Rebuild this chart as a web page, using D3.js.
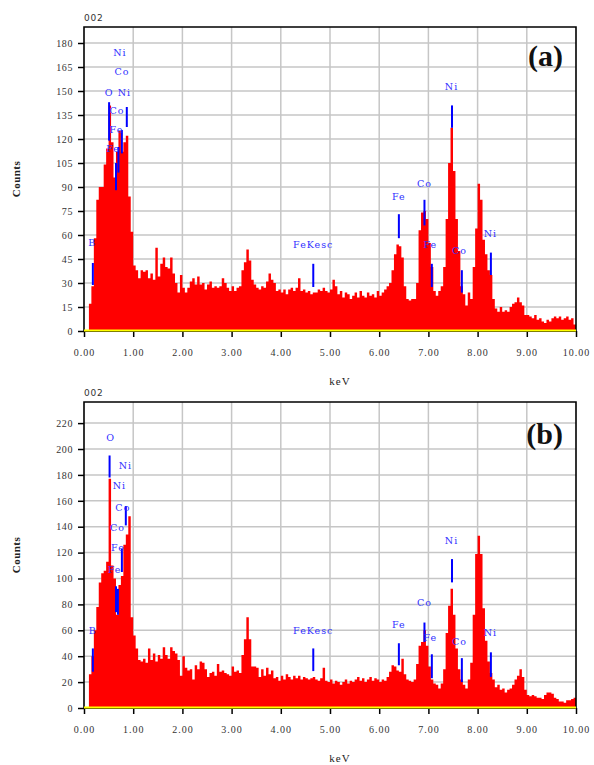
<!DOCTYPE html>
<html><head><meta charset="utf-8">
<script src="https://cdn.jsdelivr.net/npm/d3@7"></script>
<style>body{margin:0;background:#fff}svg{display:block}</style>
</head><body><svg id="c" width="594" height="765"></svg>
<script>
// Energy bins: 0.05 keV wide, starting at 0.00 keV (200 bins up to 10.00 keV)
const binWidth = 0.05;
const energies = d3.range(200).map(i => +(i * binWidth).toFixed(2));

// Panel (a) counts per bin
const countsA = [
  0,0,17,28,58,82,90,90,104,114,   // 0.00-0.45
  141,118,96,112,125,112,118,122,84,62, // 0.50-0.95
  41,38,33,38,37,38,33,36,32,52,   // 1.00-1.45
  34,42,46,40,39,46,36,30,24,35,   // 1.50-1.95
  27,24,27,31,33,29,34,29,30,26,   // 2.00-2.45
  29,31,27,28,27,28,33,30,27,25,   // 2.50-2.95
  28,25,27,28,38,43,51,44,32,29,   // 3.00-3.45
  27,26,28,27,31,36,32,30,25,26,   // 3.50-3.95
  24,26,23,26,27,25,27,33,25,26,   // 4.00-4.45
  24,25,23,24,24,26,25,27,25,24,   // 4.50-4.95
  26,32,28,23,25,21,24,23,20,22,   // 5.00-5.45
  24,21,25,22,21,24,22,23,21,25,   // 5.50-5.95
  22,24,26,28,30,38,48,54,53,46,   // 6.00-6.45
  28,20,19,20,20,30,63,74,75,70,   // 6.50-6.95
  55,40,25,22,25,28,40,70,105,127, // 7.00-7.45
  100,70,50,28,23,16,24,20,40,64,  // 7.50-7.95
  92,82,57,48,38,35,20,14,12,15,   // 8.00-8.45
  12,13,12,15,17,18,21,18,16,10,   // 8.50-8.95
  10,9,8,10,7,8,6,5,7,6,           // 9.00-9.45
  8,9,8,9,7,8,9,7,8,4              // 9.50-9.95
];

// Panel (b) counts per bin
const countsB = [
  0,0,26,40,60,78,97,104,106,113,  // 0.00-0.45
  177,110,100,72,95,102,126,134,148,70, // 0.50-0.95
  56,46,37,36,38,35,46,37,42,36,   // 1.00-1.45
  41,38,47,41,38,47,44,42,37,25,   // 1.50-1.95
  40,31,29,30,22,33,30,36,35,30,   // 2.00-2.45
  24,27,28,25,34,28,29,27,26,25,   // 2.50-2.95
  32,28,29,27,41,53,70,53,32,32,   // 3.00-3.45
  31,24,30,25,31,26,29,23,24,21,   // 3.50-3.95
  25,22,26,24,22,25,23,25,22,24,   // 4.00-4.45
  23,22,23,24,22,21,23,31,21,20,   // 4.50-4.95
  22,19,21,20,18,20,22,19,21,20,   // 5.00-5.45
  22,24,21,23,20,22,24,21,23,22,   // 5.50-5.95
  20,22,21,24,28,33,32,29,28,38,   // 6.00-6.45
  26,22,21,20,22,34,48,51,60,48,   // 6.50-6.95
  32,22,19,18,15,19,30,58,79,92,   // 7.00-7.45
  72,46,30,22,18,15,22,35,72,119,  // 7.50-7.95
  133,119,77,52,36,27,22,16,18,14, // 8.00-8.45
  15,12,14,15,18,22,25,30,24,14,   // 8.50-8.95
  10,9,10,9,8,8,7,10,12,12,        // 9.00-9.45
  11,8,7,5,5,4,6,6,7,8             // 9.50-9.95
];

const xTicks = [0,1,2,3,4,5,6,7,8,9,10];
const yTicksA = [0,15,30,45,60,75,90,105,120,135,150,165,180];
const yTicksB = [0,20,40,60,80,100,120,140,160,180,200,220];
const panelTags = ["(a)", "(b)"];
const sampleId = "002";
const xTitle = "keV";
const yTitle = "Counts";

// Peak labels: text, energy (keV), height (counts)
const peakTextA  = ["Ni","Co","O","Ni","Co","Fe","Fe","B","FeKesc","Fe","Co","Ni","Fe","Co","Ni"];
const peakTextXA = [0.73,0.77,0.51,0.82,0.67,0.66,0.59,0.17,4.66,6.40,6.92,7.47,7.04,7.63,8.26];
const peakTextYA = [174,162,149,149,138,126,114,55,54,84,92,152.5,54,50,61];
// Peak markers: energy (keV), low and high (counts)
const markKeVA  = [0.51,0.87,0.77,0.70,0.65,0.18,4.66,6.40,6.92,7.48,7.07,7.68,8.27];
const markLowA  = [119,127.5,111,99,88,28.75,27.5,58,66,127,27.5,24,35];
const markHighA = [143,140,125.6,115,105,42.5,42,73,82,141,42,38,49];

const peakTextB  = ["O","Ni","Ni","Co","Co","Fe","Fe","B","FeKesc","Fe","Co","Fe","Ni","Co","Ni"];
const peakTextXB = [0.54,0.84,0.72,0.79,0.68,0.69,0.62,0.18,4.66,6.40,6.92,7.04,7.47,7.63,8.26];
const peakTextYB = [209,187,171.5,155,139,124,107,60,60,64,81.5,54.6,129,51,58];
const markKeVB  = [0.18,0.52,0.85,0.77,0.69,0.65,4.66,6.40,6.92,7.07,7.48,7.68,8.27];
const markLowB  = [28,178,141,105,72,74,28.5,33,51,23,97,20,24];
const markHighB = [46,195,156,123,92,94,46,50,66,41.5,115,38.5,43];

const svg = d3.select("#c");
svg.append("rect").attr("width",594).attr("height",765).attr("fill","#fff");

function drawPanel(cfg) {
  const x = d3.scaleLinear().domain([0,10]).range([84,576]);
  const y = d3.scaleLinear().domain([0,cfg.yMax]).range([cfg.bottom,cfg.top]);
  const g = svg.append("g");

  // grid
  g.selectAll("line.vg").data(xTicks.slice(1,-1)).join("line")
    .attr("x1",d=>x(d)).attr("x2",d=>x(d)).attr("y1",cfg.top).attr("y2",cfg.bottom)
    .attr("stroke","#c6c6c6").attr("stroke-width",1.5);
  g.selectAll("line.hg").data(cfg.yTicks.slice(1)).join("line")
    .attr("x1",x(0)).attr("x2",x(10)).attr("y1",d=>y(d)).attr("y2",d=>y(d))
    .attr("stroke","#c6c6c6").attr("stroke-width",1.5);

  // spectrum
  const pts = energies.map((e,i)=>[e,cfg.counts[i]]);
  pts.push([10, cfg.counts[cfg.counts.length-1]]);
  const area = d3.area().x(d=>x(d[0])).y0(y(0)).y1(d=>y(d[1])).curve(d3.curveStepAfter);
  g.append("path").datum(pts).attr("d",area).attr("fill","#ff0000");

  // markers
  g.selectAll("line.mk").data(cfg.markKeV).join("line")
    .attr("x1",d=>x(d)).attr("x2",d=>x(d))
    .attr("y1",(d,i)=>y(cfg.markLow[i])).attr("y2",(d,i)=>y(cfg.markHigh[i]))
    .attr("stroke","#0000ff").attr("stroke-width",2);

  // peak labels
  g.selectAll("text.pk").data(cfg.peakText).join("text")
    .attr("x",(d,i)=>x(cfg.peakX[i])).attr("y",(d,i)=>y(cfg.peakY[i])).attr("dy","0.35em")
    .attr("text-anchor","middle").attr("font-family","'DejaVu Serif', serif")
    .attr("font-size",9.5).attr("letter-spacing",1).attr("fill","#3030ff").text(d=>d);

  // frame
  g.append("path").attr("d",`M${x(0)},${cfg.bottom}V${cfg.top}H${x(10)}V${cfg.bottom}`)
    .attr("fill","none").attr("stroke","#000").attr("stroke-width",1.6);

  // x axis
  const xa = g.append("g").attr("transform",`translate(0,${cfg.bottom})`)
    .call(d3.axisBottom(x).tickValues(xTicks).tickFormat(d3.format(".2f")).tickSize(6).tickPadding(12));
  xa.select(".domain").remove();
  xa.selectAll("line").attr("stroke","#000").attr("stroke-width",1.5);
  xa.selectAll("text").attr("font-family","'Liberation Serif', serif").attr("font-size",10)
    .attr("letter-spacing",1).attr("fill","#333");
  g.append("line").attr("x1",x(0)).attr("x2",x(10)).attr("y1",cfg.bottom+0.5).attr("y2",cfg.bottom+0.5)
    .attr("stroke","#000").attr("stroke-width",1);
  g.append("line").attr("x1",x(0)).attr("x2",x(10)).attr("y1",cfg.bottom-0.5).attr("y2",cfg.bottom-0.5)
    .attr("stroke","#ffff00").attr("stroke-width",2);

  // y axis
  const ya = g.append("g").attr("transform",`translate(${x(0)},0)`)
    .call(d3.axisLeft(y).tickValues(cfg.yTicks).tickSize(6).tickPadding(5));
  ya.select(".domain").remove();
  ya.selectAll("line").attr("stroke","#000").attr("stroke-width",1.5);
  ya.selectAll("text").attr("font-family","'Liberation Serif', serif").attr("font-size",10)
    .attr("letter-spacing",0.6).attr("fill","#333");

  // titles
  g.append("text").attr("x",340).attr("y",cfg.bottom+54).attr("text-anchor","middle")
    .attr("font-family","'Liberation Serif', serif").attr("font-size",11).attr("letter-spacing",1)
    .attr("fill","#222").text(xTitle);
  g.append("text").attr("transform",`translate(20,${(cfg.top+cfg.bottom)/2}) rotate(-90)`)
    .attr("text-anchor","middle").attr("font-family","'Liberation Serif', serif")
    .attr("font-size",11).attr("font-weight","bold").attr("letter-spacing",0.5)
    .attr("fill","#222").text(yTitle);
  g.append("text").attr("x",x(0)).attr("y",cfg.top-6)
    .attr("font-family","'DejaVu Sans', sans-serif").attr("font-size",9).attr("letter-spacing",0.8)
    .attr("fill","#333").text(sampleId);
  g.append("text").attr("x",563).attr("y",cfg.tagY).attr("text-anchor","end")
    .attr("font-family","'Liberation Serif', serif").attr("font-size",30).attr("font-weight","bold")
    .attr("fill","#111").text(cfg.tag);
}

drawPanel({top:27, bottom:331, yMax:190, yTicks:yTicksA, counts:countsA,
  peakText:peakTextA, peakX:peakTextXA, peakY:peakTextYA,
  markKeV:markKeVA, markLow:markLowA, markHigh:markHighA, tag:panelTags[0], tagY:66});
drawPanel({top:402, bottom:708, yMax:236.3, yTicks:yTicksB, counts:countsB,
  peakText:peakTextB, peakX:peakTextXB, peakY:peakTextYB,
  markKeV:markKeVB, markLow:markLowB, markHigh:markHighB, tag:panelTags[1], tagY:444});
</script>
</body></html>
